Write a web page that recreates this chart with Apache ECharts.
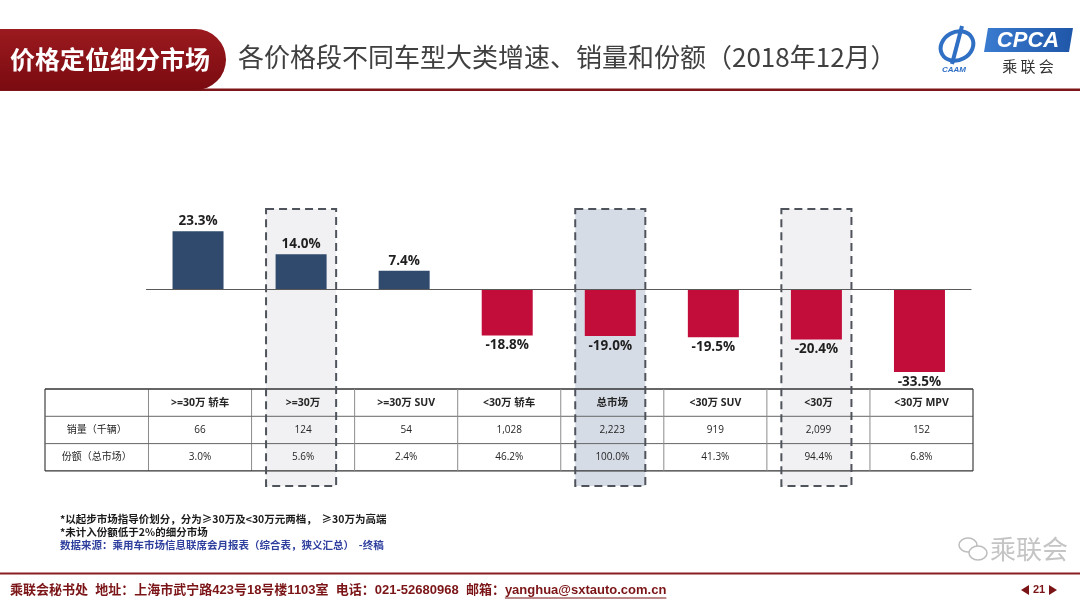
<!DOCTYPE html>
<html><head><meta charset="utf-8">
<script src="https://cdn.jsdelivr.net/npm/echarts@6/dist/echarts.min.js"></script>
<style>html,body{margin:0;padding:0;background:#fff}#c{width:1080px;height:607px}</style>
</head><body><div id="c"></div>
<script>
// ---- data ----
const categories = ['>=30万 轿车', '>=30万', '>=30万 SUV', '<30万 轿车', '总市场', '<30万 SUV', '<30万', '<30万 MPV'];
const growthPct = [23.3, 14.0, 7.4, -18.8, -19.0, -19.5, -20.4, -33.5];
const salesK = [66, 124, 54, 1028, 2223, 919, 2099, 152];
const sharePct = [3.0, 5.6, 2.4, 46.2, 100.0, 41.3, 94.4, 6.8];
const rowLabels = ['销量（千辆）', '份额（总市场）'];
const highlightIdx = [1, 4, 6];
const strongHighlightIdx = [4];
const sectionTab = '价格定位细分市场';
const pageTitle = '各价格段不同车型大类增速、销量和份额（2018年12月）';
const notes = ['*以起步市场指导价划分，分为≥30万及<30万元两档，  ≥30万为高端', '*未计入份额低于2%的细分市场'];
const sourceNote = '数据来源：乘用车市场信息联席会月报表（综合表，狭义汇总）  -终稿';
const footerText = '乘联会秘书处  地址：上海市武宁路423号18号楼1103室  电话：021-52680968  邮箱：';
const footerEmail = 'yanghua@sxtauto.com.cn';
const pageNo = '21';

// ---- styles ----
const TXT = "'Open Sans','Noto Sans CJK SC',sans-serif";
const CJK = "'Noto Sans CJK SC',sans-serif";
const FOOT = "'Liberation Sans','Noto Sans CJK SC',sans-serif";
const BLUE = '#2f4a6d', RED = '#c20d3b', DARKRED = '#7d1519';
const ROW_H = 27.3, TABLE_LEFT = 45, COL_SHIFT = 2;

const fmtSales = v => v.toLocaleString('en-US');
const fmtShare = v => v.toFixed(1) + '%';

function tableRender(params, api) {
  const idx = api.value(0);
  const cs = params.coordSys;
  const bw = api.size([1, 0])[0];
  const cx = api.coord([idx, 0])[0] + COL_SHIFT;
  const x0 = cx - bw / 2, x1 = cx + bw / 2;
  const top = cs.y + cs.height + 0.8;
  const ry = [top, top + ROW_H, top + 2 * ROW_H, top + 3 * ROW_H];
  const ch = [];
  const texts = [categories[idx], fmtSales(salesK[idx]), fmtShare(sharePct[idx])];
  texts.forEach((t, r) => ch.push({
    type: 'text',
    style: { text: t, x: cx, y: ry[r] + ROW_H / 2, align: 'center', verticalAlign: 'middle',
      textAlign: 'center', textVerticalAlign: 'middle',
      fontSize: r === 0 ? 10.5 : 10, fontWeight: r === 0 ? 'bold' : 'normal', fontFamily: TXT, fill: '#262626' }
  }));
  const last = idx === categories.length - 1;
  ch.push({ type: 'line', shape: { x1: x1, y1: ry[0], x2: x1, y2: ry[3] },
    style: { stroke: last ? '#404040' : '#8c8c8c', lineWidth: last ? 1.2 : 1 } });
  if (idx === 0) {
    const right = api.coord([categories.length - 1, 0])[0] + COL_SHIFT + bw / 2;
    ch.push({ type: 'line', shape: { x1: x0, y1: ry[0], x2: x0, y2: ry[3] }, style: { stroke: '#8c8c8c', lineWidth: 1 } });
    ch.push({ type: 'line', shape: { x1: TABLE_LEFT, y1: ry[0], x2: TABLE_LEFT, y2: ry[3] }, style: { stroke: '#404040', lineWidth: 1.2 } });
    ry.forEach((y, k) => ch.push({ type: 'line', shape: { x1: TABLE_LEFT, y1: y, x2: right, y2: y },
      style: { stroke: (k === 0 || k === 3) ? '#333' : '#666', lineWidth: (k === 0 || k === 3) ? 1.4 : 1 } }));
    rowLabels.forEach((t, r) => ch.push({
      type: 'text',
      style: { text: t, x: (TABLE_LEFT + x0) / 2, y: ry[r + 1] + ROW_H / 2, align: 'center', verticalAlign: 'middle',
        textAlign: 'center', textVerticalAlign: 'middle', fontSize: 10, fontFamily: TXT, fill: '#262626' }
    }));
  }
  return { type: 'group', children: ch };
}

function boxShape(params, api) {
  const idx = api.value(0);
  const bw = api.size([1, 0])[0];
  const p = api.coord([idx, 0]);
  const w = bw * 0.68;
  return { x: p[0] - w / 2, y: p[1] - 80, width: w, height: 277 };
}

const chart = echarts.init(document.getElementById('c'));

// footer measurement
const mctx = document.createElement('canvas').getContext('2d');
mctx.font = 'bold 13px ' + FOOT;
const footW = mctx.measureText(footerText).width;
const emailW = mctx.measureText(footerEmail).width;
const FOOT_X = 10, FOOT_Y = 590;

const graphics = [
  { type: 'rect', shape: { x: 0, y: 88.5, width: 1080, height: 2.5 }, style: { fill: DARKRED } },
  { type: 'rect', shape: { x: -5, y: 29, width: 231, height: 61, r: [0, 31, 31, 0] },
    style: { fill: new echarts.graphic.LinearGradient(0, 0, 0, 1, [{ offset: 0, color: '#9b1a1f' }, { offset: 1, color: '#7a0b10' }]) } },
  { type: 'text', style: { text: sectionTab, x: 10, y: 59, textVerticalAlign: 'middle', verticalAlign: 'middle', font: 'bold 25px ' + CJK, fill: '#fff' } },
  { type: 'text', style: { text: pageTitle, x: 238, y: 57, textVerticalAlign: 'middle', verticalAlign: 'middle', font: '26px ' + CJK, fill: '#404040' } },
  // logo
  { type: 'polygon', shape: { points: [[988, 28], [1073, 28], [1069, 52], [984, 52]] },
    style: { fill: new echarts.graphic.LinearGradient(0, 0, 1, 0, [{ offset: 0, color: '#3a7bd0' }, { offset: 1, color: '#1f56a8' }]) } },
  { type: 'text', style: { text: 'CPCA', x: 1028, y: 41, textAlign: 'center', align: 'center', textVerticalAlign: 'middle', verticalAlign: 'middle', font: 'italic bold 22px "Liberation Sans"', fill: '#fff' } },
  { type: 'text', style: { text: '乘 联 会', x: 1028, y: 66, textAlign: 'center', align: 'center', textVerticalAlign: 'middle', verticalAlign: 'middle', font: '15px ' + CJK, fill: '#333' } },
  { type: 'ellipse', shape: { cx: 957, cy: 46, rx: 17, ry: 14 }, rotation: 0.5, originX: 957, originY: 46, style: { fill: 'none', stroke: '#2f6fc4', lineWidth: 4 } },
  { type: 'line', shape: { x1: 962, y1: 26, x2: 952, y2: 64 }, style: { stroke: '#2f6fc4', lineWidth: 4 } },
  { type: 'text', style: { text: 'CAAM', x: 954, y: 70, textAlign: 'center', align: 'center', textVerticalAlign: 'middle', verticalAlign: 'middle', font: 'italic bold 8px "Liberation Sans"', fill: '#2f6fc4' } },
  // notes
  { type: 'text', style: { text: notes[0], x: 60, y: 519, textVerticalAlign: 'middle', verticalAlign: 'middle', font: 'bold 10.5px ' + CJK, fill: '#1a1a1a' } },
  { type: 'text', style: { text: notes[1], x: 60, y: 532, textVerticalAlign: 'middle', verticalAlign: 'middle', font: 'bold 10.5px ' + CJK, fill: '#1a1a1a' } },
  { type: 'text', style: { text: sourceNote, x: 60, y: 545, textVerticalAlign: 'middle', verticalAlign: 'middle', font: 'bold 10.5px ' + CJK, fill: '#2f3f9e' } },
  // watermark
  { type: 'ellipse', shape: { cx: 968, cy: 545, rx: 9, ry: 7 }, style: { fill: 'none', stroke: '#bdbdbd', lineWidth: 1.5 } },
  { type: 'ellipse', shape: { cx: 978, cy: 553, rx: 9, ry: 7 }, style: { fill: '#fff', stroke: '#bdbdbd', lineWidth: 1.5 } },
  { type: 'text', style: { text: '乘联会', x: 990, y: 549, textVerticalAlign: 'middle', verticalAlign: 'middle', font: '26px ' + CJK, fill: '#c4c4c4' } },
  // footer
  { type: 'rect', shape: { x: 0, y: 572.5, width: 1080, height: 2 }, style: { fill: '#8a1e22' } },
  { type: 'text', style: { text: footerText, x: FOOT_X, y: FOOT_Y, textVerticalAlign: 'middle', verticalAlign: 'middle', font: 'bold 13px ' + FOOT, fill: '#7b1416' } },
  { type: 'text', style: { text: footerEmail, x: FOOT_X + footW, y: FOOT_Y, textVerticalAlign: 'middle', verticalAlign: 'middle', font: 'bold 13px ' + FOOT, fill: '#7b1416' } },
  { type: 'line', shape: { x1: FOOT_X + footW, y1: FOOT_Y + 8, x2: FOOT_X + footW + emailW, y2: FOOT_Y + 8 }, style: { stroke: '#7b1416', lineWidth: 1 } },
  { type: 'polygon', shape: { points: [[1021, 590], [1029, 585], [1029, 595]] }, style: { fill: '#7b1416' } },
  { type: 'text', style: { text: pageNo, x: 1039, y: 590, textAlign: 'center', align: 'center', textVerticalAlign: 'middle', verticalAlign: 'middle', font: 'bold 11px ' + FOOT, fill: '#7b1416' } },
  { type: 'polygon', shape: { points: [[1057, 590], [1049, 585], [1049, 595]] }, style: { fill: '#7b1416' } }
];

const option = {
  backgroundColor: '#fff',
  animation: false,
  grid: { left: 146.5, top: 199.7, width: 824.5, height: 188.5 },
  xAxis: {
    type: 'category', data: categories, z: 6,
    axisLine: { show: true, onZero: true, lineStyle: { color: '#595959', width: 1.2 } },
    axisTick: { show: false }, axisLabel: { show: false }, splitLine: { show: false }
  },
  yAxis: { type: 'value', min: -40, max: 36, show: false, splitLine: { show: false } },
  series: [
    {
      type: 'custom', name: 'boxFill', z: 1, silent: true, clip: false,
      data: highlightIdx.map(i => [i, 0]), encode: { x: 0, y: 1 },
      renderItem: (params, api) => ({
        type: 'rect', shape: boxShape(params, api),
        style: { fill: strongHighlightIdx.includes(api.value(0)) ? '#d6dce6' : '#f1f1f3' }
      })
    },
    {
      type: 'custom', name: 'table', z: 2, silent: true, clip: false,
      data: categories.map((c, i) => [i, 0]), encode: { x: 0, y: 1 },
      renderItem: tableRender
    },
    {
      type: 'bar', name: 'growth', z: 3, barWidth: 51,
      data: growthPct.map(v => ({
        value: v,
        itemStyle: { color: v >= 0 ? BLUE : RED },
        label: { position: v >= 0 ? 'top' : 'bottom' }
      })),
      label: {
        show: true, distance: 3, formatter: p => p.value.toFixed(1) + '%',
        fontSize: 13.5, fontWeight: 'bold', fontFamily: TXT, color: '#1f1f1f'
      }
    },
    {
      type: 'custom', name: 'boxBorder', z: 4, silent: true, clip: false,
      data: highlightIdx.map(i => [i, 0]), encode: { x: 0, y: 1 },
      renderItem: (params, api) => ({
        type: 'rect', shape: boxShape(params, api),
        style: { fill: 'none', stroke: '#4f545c', lineWidth: 2, lineDash: [8, 5] }
      })
    }
  ],
  graphic: graphics
};
chart.setOption(option);
</script></body></html>
